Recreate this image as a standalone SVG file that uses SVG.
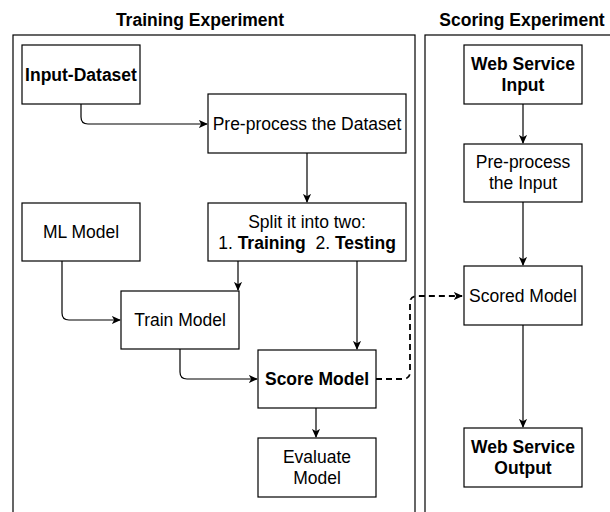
<svg xmlns="http://www.w3.org/2000/svg" width="610" height="512" viewBox="0 0 610 512">
<style>
  .box { fill: #ffffff; stroke: #000000; stroke-width: 1.2; }
  .cont { fill: none; stroke: #000000; stroke-width: 1.2; }
  .t { font-family: "Liberation Sans", Arial, sans-serif; font-size: 17.5px; fill: #000000; text-anchor: middle; }
  .b { font-weight: bold; }
  .edge { fill: none; stroke: #000000; stroke-width: 1.2; }
  .dash { fill: none; stroke: #000000; stroke-width: 1.8; stroke-dasharray: 6 4; }
</style>
<defs>
  <marker id="arr" viewBox="0 0 10 10" refX="9" refY="5" markerWidth="9" markerHeight="9" markerUnits="userSpaceOnUse" orient="auto">
    <path d="M0,0.5 L10,5 L0,9.5 L2.5,5 Z" fill="#000000"/>
  </marker>
</defs>
<rect width="610" height="512" fill="#ffffff"/>

<g id="training-container">
  <rect class="cont" x="13" y="35" width="402" height="495"/>
  <text class="t b" x="200" y="26">Training Experiment</text>
</g>
<g id="scoring-container">
  <rect class="cont" x="425" y="35" width="200" height="495"/>
  <text class="t b" x="522" y="26">Scoring Experiment</text>
</g>

<g id="connectors">
  <path class="edge" d="M81,104 V117 Q81,124 88,124 H207" marker-end="url(#arr)"/>
  <path class="edge" d="M307,153 V202" marker-end="url(#arr)"/>
  <path class="edge" d="M238,261 V290" marker-end="url(#arr)"/>
  <path class="edge" d="M357,261 V349" marker-end="url(#arr)"/>
  <path class="edge" d="M62,261 V313 Q62,320 69,320 H120" marker-end="url(#arr)"/>
  <path class="edge" d="M180,349 V372 Q180,379 187,379 H257" marker-end="url(#arr)"/>
  <path class="edge" d="M316,408 V437" marker-end="url(#arr)"/>
  <path class="dash" d="M376,379 H403 Q410,379 410,372 V303 Q410,296 417,296 H462" marker-end="url(#arr)"/>
  <path class="edge" d="M523,104 V143" marker-end="url(#arr)"/>
  <path class="edge" d="M523,202 V265" marker-end="url(#arr)"/>
  <path class="edge" d="M523,325 V427" marker-end="url(#arr)"/>
</g>

<g id="input-dataset">
  <rect class="box" x="22" y="45" width="118" height="59"/>
  <text class="t b" x="81" y="81">Input-Dataset</text>
</g>
<g id="preprocess-dataset">
  <rect class="box" x="208" y="94" width="198" height="59"/>
  <text class="t" x="307" y="130">Pre-process the Dataset</text>
</g>
<g id="ml-model">
  <rect class="box" x="22" y="203" width="118" height="58"/>
  <text class="t" x="81" y="238">ML Model</text>
</g>
<g id="split">
  <rect class="box" x="208" y="203" width="198" height="58"/>
  <text class="t" x="307" y="228">Split it into two:</text>
  <text class="t" x="307" y="249" xml:space="preserve" style="white-space:pre">1. <tspan class="b">Training</tspan>  2. <tspan class="b">Testing</tspan></text>
</g>
<g id="train-model">
  <rect class="box" x="121" y="291" width="118" height="58"/>
  <text class="t" x="180" y="326">Train Model</text>
</g>
<g id="score-model">
  <rect class="box" x="258" y="350" width="118" height="58"/>
  <text class="t b" x="317" y="385">Score Model</text>
</g>
<g id="evaluate-model">
  <rect class="box" x="258" y="438" width="118" height="59"/>
  <text class="t" x="317" y="463">Evaluate</text>
  <text class="t" x="317" y="484">Model</text>
</g>
<g id="web-service-input">
  <rect class="box" x="464" y="45" width="118" height="59"/>
  <text class="t b" x="523" y="70">Web Service</text>
  <text class="t b" x="523" y="91">Input</text>
</g>
<g id="preprocess-input">
  <rect class="box" x="464" y="144" width="118" height="58"/>
  <text class="t" x="523" y="168">Pre-process</text>
  <text class="t" x="523" y="189">the Input</text>
</g>
<g id="scored-model">
  <rect class="box" x="464" y="266" width="118" height="59"/>
  <text class="t" x="523" y="302">Scored Model</text>
</g>
<g id="web-service-output">
  <rect class="box" x="464" y="428" width="118" height="59"/>
  <text class="t b" x="523" y="453">Web Service</text>
  <text class="t b" x="523" y="474">Output</text>
</g>
</svg>
